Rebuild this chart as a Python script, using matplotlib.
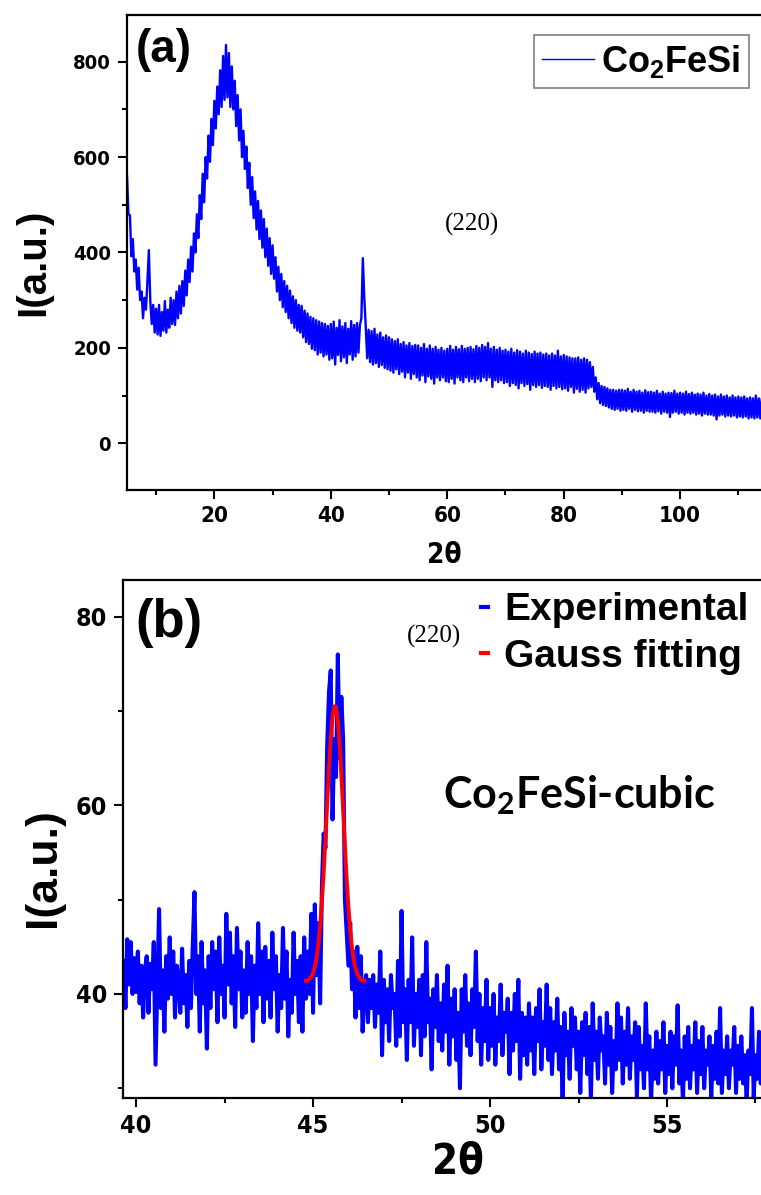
import numpy as np
import matplotlib
matplotlib.use("Agg")
import matplotlib.pyplot as plt
from matplotlib import font_manager
from matplotlib.ticker import MultipleLocator
from matplotlib.lines import Line2D

#Fonts: a narrow bold face for ticks if one is installed, Arial-like bold for labels
installed = font_manager.fontManager.ttflist
if any(f.name == 'Liberation Sans Narrow' for f in installed):
    NARROW = dict(family='Liberation Sans Narrow')
elif any(f.name == 'DejaVu Sans' and f.stretch == 'condensed' for f in installed):
    NARROW = dict(family='DejaVu Sans', stretch='condensed')
else:
    NARROW = dict(family='Liberation Sans')
SANS = ['Liberation Sans', 'DejaVu Sans']
plt.rcParams['mathtext.fontset'] = 'custom'
plt.rcParams['mathtext.bf'] = 'Liberation Sans:bold'
plt.rcParams['mathtext.sf'] = 'Lato:bold'
plt.rcParams['mathtext.rm'] = 'Liberation Sans'

#Panel (a): full scan, 2theta from 5 deg in 0.25 deg steps
scan_a_start = 5.0
scan_a_step = 0.25
intensity_a = [
    560, 480, 478, 392, 428, 360, 385, 322, 368, 300, 318, 262, 305, 280, 338, 405, 298, 250, 290, 232,
    282, 228, 290, 225, 275, 236, 298, 232, 280, 242, 305, 250, 300, 248, 318, 262, 330, 272, 340, 288,
    362, 310, 385, 338, 412, 360, 440, 400, 480, 430, 520, 470, 565, 505, 600, 555, 645, 590, 680, 625,
    718, 660, 748, 690, 782, 705, 812, 720, 835, 725, 818, 705, 790, 700, 760, 665, 730, 635, 700, 600,
    655, 575, 622, 535, 588, 500, 558, 472, 528, 448, 508, 428, 488, 410, 470, 390, 450, 372, 430, 355,
    415, 345, 390, 318, 370, 300, 355, 285, 340, 275, 330, 262, 320, 252, 308, 242, 300, 236, 290, 232,
    288, 222, 278, 212, 272, 208, 265, 198, 262, 195, 258, 186, 255, 190, 252, 182, 250, 186, 246, 175,
    250, 178, 255, 165, 242, 185, 258, 172, 245, 180, 252, 168, 240, 186, 256, 175, 248, 182, 252, 190,
    248, 262, 388, 305, 245, 178, 238, 170, 235, 165, 240, 168, 228, 160, 232, 164, 222, 158, 226, 155,
    222, 152, 218, 148, 214, 155, 218, 145, 208, 150, 212, 138, 205, 148, 210, 135, 204, 145, 206, 138,
    205, 132, 200, 142, 208, 128, 198, 140, 205, 135, 198, 125, 202, 138, 196, 132, 200, 138, 194, 130,
    198, 128, 204, 135, 196, 125, 202, 138, 197, 132, 204, 128, 198, 138, 200, 130, 202, 135, 197, 128,
    204, 135, 200, 130, 206, 138, 202, 132, 210, 138, 198, 118, 202, 132, 196, 128, 200, 132, 194, 126,
    196, 128, 192, 120, 198, 126, 190, 122, 195, 115, 192, 126, 188, 120, 194, 124, 190, 112, 187, 122,
    192, 118, 188, 122, 190, 116, 186, 120, 188, 118, 184, 112, 188, 120, 184, 115, 194, 118, 182, 113,
    185, 115, 182, 110, 180, 118, 178, 106, 178, 114, 180, 108, 175, 112, 178, 106, 175, 115, 170, 118,
    160, 108, 138, 92, 126, 84, 120, 80, 118, 78, 115, 75, 112, 72, 112, 70, 110, 72, 112, 68,
    112, 70, 110, 68, 114, 72, 108, 66, 112, 70, 108, 67, 110, 68, 106, 64, 111, 68, 107, 66,
    108, 66, 106, 64, 110, 67, 104, 62, 108, 66, 104, 64, 106, 55, 105, 64, 110, 66, 104, 62,
    106, 64, 104, 60, 108, 64, 103, 62, 106, 64, 102, 60, 104, 62, 102, 58, 106, 62, 100, 60,
    103, 60, 100, 58, 102, 50, 98, 58, 102, 60, 98, 56, 100, 58, 96, 56, 100, 58, 96, 54,
    98, 56, 96, 54, 98, 56, 94, 52, 96, 54, 94, 52, 100, 54, 94, 52, 92,
]

#Panel (b): zoom on the (220) peak, 2theta from 39.65 deg in 0.05 deg steps
scan_b_start = 39.65
scan_b_step = 0.05
intensity_b = [
    43.5, 38.5, 45.8, 41.0, 45.5, 40.0, 43.8, 40.2, 44.5, 39.0, 43.0, 37.5, 42.5, 44.0, 38.0, 43.2, 40.5, 45.5, 32.5, 41.0,
    49.0, 38.5, 42.5, 36.0, 44.0, 39.5, 46.0, 40.0, 44.5, 37.5, 43.0, 41.5, 38.0, 44.8, 39.0, 42.0, 36.5, 43.5, 38.5, 45.0,
    50.8, 40.0, 44.0, 36.0, 45.5, 39.0, 42.5, 34.2, 44.0, 38.5, 45.5, 40.5, 44.5, 37.0, 46.0, 40.0, 43.0, 37.5, 48.5, 41.0,
    46.5, 39.0, 44.0, 36.5, 47.0, 40.5, 44.5, 37.5, 42.5, 38.0, 45.5, 40.0, 44.0, 35.0, 43.0, 38.5, 47.5, 40.0, 44.5, 37.0,
    45.0, 39.5, 43.5, 37.5, 46.5, 40.5, 44.0, 36.0, 42.0, 38.5, 47.0, 39.5, 44.5, 35.5, 41.5, 38.0, 46.5, 40.0, 43.5, 37.0,
    44.0, 36.0, 46.0, 39.5, 44.5, 40.0, 48.5, 38.0, 49.5, 42.0, 47.5, 39.0, 51.5, 57.0, 55.5, 66.5, 72.0, 74.3, 58.5, 67.0,
    63.0, 76.0, 65.0, 71.5, 67.0, 50.0, 46.5, 43.0, 47.5, 40.5, 44.5, 37.5, 45.0, 38.5, 44.0, 36.0, 40.5, 42.0, 37.0, 41.5,
    38.5, 42.0, 36.5, 41.0, 38.0, 44.5, 33.5, 41.5, 37.0, 40.5, 35.0, 42.0, 38.5, 40.0, 34.5, 43.5, 35.5, 48.8, 37.0, 40.5,
    33.0, 41.5, 37.0, 46.0, 34.5, 40.0, 36.5, 41.5, 33.5, 42.0, 35.5, 45.5, 37.0, 39.5, 32.0, 40.5, 36.5, 42.0, 35.0, 39.0,
    34.0, 41.0, 36.0, 43.0, 32.5, 39.5, 35.5, 40.5, 33.0, 38.0, 30.0, 40.5, 36.0, 42.0, 34.5, 39.0, 33.5, 40.5, 36.5, 44.5,
    35.0, 40.0, 32.5, 38.5, 35.0, 41.5, 33.0, 38.5, 34.5, 40.0, 32.5, 37.5, 35.0, 41.0, 33.5, 38.0, 36.0, 39.5, 31.5, 38.0,
    34.0, 40.0, 35.0, 41.5, 31.0, 38.0, 33.5, 37.5, 32.5, 39.0, 34.0, 37.5, 31.5, 38.5, 35.0, 40.5, 32.0, 37.0, 34.5, 41.0,
    33.0, 38.5, 31.5, 37.0, 34.0, 39.5, 32.0, 36.5, 28.5, 38.0, 33.5, 36.0, 31.0, 38.5, 34.5, 37.5, 32.0, 36.0, 29.5, 37.0,
    33.5, 38.0, 31.5, 36.5, 28.5, 39.0, 33.0, 36.0, 31.0, 37.5, 34.0, 35.5, 30.5, 38.0, 32.5, 36.5, 29.5, 35.0, 32.0, 39.0,
    33.0, 37.5, 30.5, 36.0, 32.5, 38.5, 31.0, 35.5, 33.0, 37.0, 29.0, 36.5, 32.0, 34.5, 30.0, 39.0, 32.0, 35.5, 28.5, 34.0,
    31.0, 36.0, 30.5, 35.0, 32.0, 37.0, 29.5, 34.5, 31.5, 36.0, 30.0, 35.5, 32.5, 38.8, 30.5, 34.0, 28.5, 35.5, 31.0, 36.5,
    30.0, 34.5, 32.0, 37.0, 29.5, 35.0, 31.5, 36.5, 30.0, 34.0, 32.5, 35.5, 29.0, 34.5, 31.0, 36.0, 30.5, 38.5, 29.5, 34.0,
    31.5, 35.5, 30.0, 34.0, 32.5, 36.5, 29.5, 34.5, 31.0, 35.5, 30.5, 33.5, 28.5, 34.0, 31.5, 38.5, 29.0, 33.5, 31.0, 36.0,
    30.5, 33.5,
]

#Gauss fit of the (220) peak
gauss_start = 44.80
gauss_step = 0.05
gauss_fit = [
    41.4, 41.4, 41.6, 41.8, 42.2, 42.9, 43.8, 45.3, 47.2, 49.8, 52.9, 56.5, 60.2, 63.9, 67.0, 69.3, 70.5,
    70.4, 69.0, 66.4, 63.2, 59.5, 55.7, 52.2, 49.2, 46.8, 44.9, 43.6, 42.7, 42.1, 41.8, 41.5, 41.4, 41.4,
]

two_theta_a = scan_a_start + scan_a_step * np.arange(len(intensity_a))
two_theta_b = scan_b_start + scan_b_step * np.arange(len(intensity_b))
two_theta_fit = gauss_start + gauss_step * np.arange(len(gauss_fit))

fig = plt.figure(figsize=(7.61, 11.95), dpi=100)
ax_a = fig.add_axes([0.1669, 0.5900, 0.8340, 0.3975])
ax_b = fig.add_axes([0.1616, 0.0812, 0.8400, 0.4335])


def style_axes(ax, xtick_size, ytick_size):
    for side in ['left', 'bottom', 'top']:
        ax.spines[side].set_linewidth(1.6)
    ax.spines['right'].set_visible(False)
    ax.tick_params(which='major', direction='out', length=6.5, width=1.5, pad=5)
    ax.tick_params(which='minor', direction='out', length=3.8, width=1.5)
    ax.tick_params(top=False, right=False)
    for lab in ax.get_xticklabels():
        lab.set(fontweight='bold', fontsize=xtick_size, **NARROW)
    for lab in ax.get_yticklabels():
        lab.set(fontweight='bold', fontsize=ytick_size, **NARROW)


#Panel (a)
ax_a.plot(two_theta_a, intensity_a, color='#0000ff', lw=1.7, label=r'Co$_\mathbf{2}$FeSi')
ax_a.set_xlim(5.0, 114.0)
ax_a.set_ylim(-98, 898)
ax_a.xaxis.set_major_locator(MultipleLocator(20))
ax_a.xaxis.set_minor_locator(MultipleLocator(10))
ax_a.yaxis.set_major_locator(MultipleLocator(200))
ax_a.yaxis.set_minor_locator(MultipleLocator(100))
style_axes(ax_a, 16, 14.5)
ax_a.set_xlabel('2θ', fontweight='bold', fontsize=20, labelpad=11, **NARROW)
ax_a.set_ylabel('I(a.u.)', family=SANS, fontweight='bold', fontsize=29)
ax_a.yaxis.set_label_coords(-0.118, 0.48)
ax_a.text(0.013, 0.972, '(a)', transform=ax_a.transAxes, ha='left', va='top',
          family=SANS, fontweight='bold', fontsize=33)
ax_a.text(64.2, 458, '(220)', ha='center', va='center', family='Liberation Serif', fontsize=18)
leg_a = ax_a.legend(loc='upper right', bbox_to_anchor=(0.9795, 0.958), borderaxespad=0,
                    prop={'family': SANS, 'weight': 'bold', 'size': 26},
                    handlelength=1.45, handletextpad=0.2, borderpad=0.22, fancybox=False, framealpha=1)
leg_a.get_frame().set_edgecolor('#808080')
leg_a.get_frame().set_linewidth(1.2)
leg_a.get_lines()[0].set_linewidth(1.0)

#Panel (b)
ax_b.plot(two_theta_b, intensity_b, color='#0000ff', lw=2.9)
ax_b.plot(two_theta_fit, gauss_fit, color='#ff0000', lw=2.8)
ax_b.set_xlim(39.63, 57.69)
ax_b.set_ylim(28.97, 83.9)
ax_b.xaxis.set_major_locator(MultipleLocator(5))
ax_b.xaxis.set_minor_locator(MultipleLocator(2.5))
ax_b.yaxis.set_major_locator(MultipleLocator(20))
ax_b.yaxis.set_minor_locator(MultipleLocator(10))
style_axes(ax_b, 18, 18)
ax_b.set_xlabel('2θ', fontweight='bold', fontsize=30, **NARROW)
ax_b.xaxis.set_label_coords(0.5235, -0.082)
ax_b.xaxis.label.set_va('top')
ax_b.set_ylabel('I(a.u.)', family=SANS, fontweight='bold', fontsize=32)
ax_b.yaxis.set_label_coords(-0.093, 0.444)
ax_b.text(0.02, 0.965, '(b)', transform=ax_b.transAxes, ha='left', va='top',
          family=SANS, fontweight='bold', fontsize=38)
ax_b.text(48.43, 77.9, '(220)', ha='center', va='center', family='Liberation Serif', fontsize=18)
handles_b = [Line2D([], [], color='#0000ff', lw=3), Line2D([], [], color='#ff0000', lw=3)]
ax_b.legend(handles_b, ['Experimental', 'Gauss fitting'], loc='upper right', bbox_to_anchor=(1.033, 1.044),
            prop={'family': SANS, 'weight': 'bold', 'size': 28}, handlelength=0.18, handletextpad=0.4,
            labelspacing=0.28, frameon=False)
ax_b.text(52.52, 61.1, r'Co$_\mathsf{2}$FeSi-cubic', ha='center', va='center',
          family=['Lato', 'DejaVu Sans'], fontweight='bold', fontsize=31)

fig.savefig('out.png', dpi=100)
